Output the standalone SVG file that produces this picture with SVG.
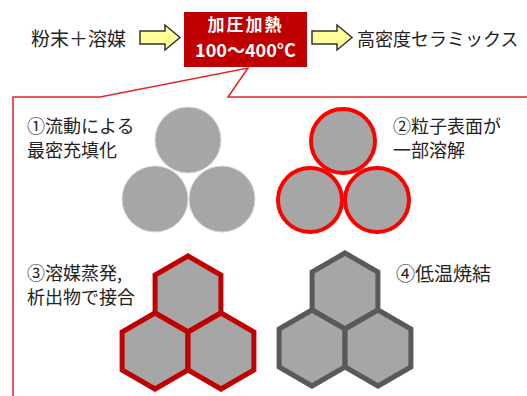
<svg xmlns="http://www.w3.org/2000/svg" width="527" height="396" viewBox="0 0 527 396">
<style>
text{font-family:"Noto Sans CJK JP","Noto Sans",sans-serif;fill:#222}
.lbl{font-size:18px}
.arr{fill:#ffff99;stroke:#333;stroke-width:1.5;stroke-linejoin:miter}
.c1{fill:#a6a6a6;stroke:#d9d9d9;stroke-width:1}
.c2{fill:#a6a6a6;stroke:#ff0000;stroke-width:4}
.h3{fill:#a6a6a6;stroke:#c00000;stroke-width:5;stroke-linejoin:miter}
.h4{fill:#a6a6a6;stroke:#595959;stroke-width:5;stroke-linejoin:miter}
</style>
<defs>
<polygon id="hex" points="0,-38 32.9,-19 32.9,19 0,38 -32.9,19 -32.9,-19"/>
</defs>
<rect width="527" height="396" fill="#fff"/>
<g id="callout">
<path d="M13,400 L13,97 L100,97 L248,68 L228,97 L530,97" fill="none" stroke="#e02525" stroke-width="1.5"/>
</g>
<g id="input"><text class="lbl" x="31" y="46" style="font-size:19px">粉末＋溶媒</text></g>
<g id="connectors">
<path class="arr" d="M140,31 L165,31 L165,25 L180,37.5 L165,50 L165,44 L140,44 Z"/>
<path class="arr" d="M312,31 L337,31 L337,25 L352,37.5 L337,50 L337,44 L312,44 Z"/>
</g>
<g id="process">
<rect x="184" y="12" width="123" height="55" fill="#c00000"/>
<text x="245.5" y="31" text-anchor="middle" font-size="17" font-weight="bold" letter-spacing="2" style="fill:#fff">加圧加熱</text>
<text x="245.5" y="57" text-anchor="middle" font-size="18" font-weight="bold" style="fill:#fff">100～400°C</text>
</g>
<g id="output"><text class="lbl" x="357" y="46">高密度セラミックス</text></g>
<g id="step1">
<text class="lbl" x="27" y="133">①流動による</text>
<text class="lbl" x="27" y="157">最密充填化</text>
<circle class="c1" cx="188" cy="140" r="33"/>
<circle class="c1" cx="155" cy="199" r="33"/>
<circle class="c1" cx="222" cy="199" r="33"/>
</g>
<g id="step2">
<text class="lbl" x="393" y="133">②粒子表面が</text>
<text class="lbl" x="393" y="157">一部溶解</text>
<circle class="c2" cx="343" cy="141" r="32"/>
<circle class="c2" cx="310" cy="200" r="32"/>
<circle class="c2" cx="377" cy="200" r="32"/>
</g>
<g id="step3">
<text class="lbl" x="27" y="280">③溶媒蒸発,</text>
<text class="lbl" x="27" y="304">析出物で接合</text>
<use href="#hex" class="h3" x="188" y="294"/>
<use href="#hex" class="h3" x="155" y="351"/>
<use href="#hex" class="h3" x="221" y="351"/>
</g>
<g id="step4">
<text class="lbl" x="396" y="281" style="font-size:19px">④低温焼結</text>
<use href="#hex" class="h4" x="345" y="291"/>
<use href="#hex" class="h4" x="312" y="348"/>
<use href="#hex" class="h4" x="378" y="348"/>
</g>
</svg>
